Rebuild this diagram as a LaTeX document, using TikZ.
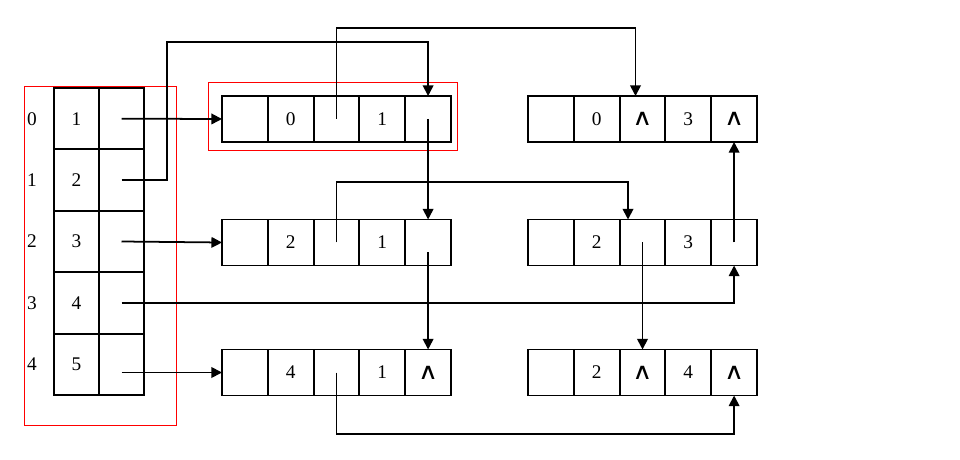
\documentclass[tikz,border=0pt]{standalone}
\usepackage{fontspec}
\setmainfont{Liberation Serif}
\newfontfamily\symfont{DejaVu Sans}
\usetikzlibrary{arrows.meta, positioning}

\newcommand{\nil}{\scalebox{1.2}[1]{\symfont\fontsize{13}{13}\selectfont ∧}}

\begin{document}
\begin{tikzpicture}[x=0.2mm, y=-0.2mm,
  cell/.style={draw, line width=1.1pt, minimum width=9.16mm, minimum height=9.2mm, inner sep=0pt, outer sep=0pt, font=\fontsize{11}{13}\selectfont},
  tcell/.style={cell, minimum width=9mm, minimum height=12.28mm},
  idx/.style={font=\fontsize{11}{13}\selectfont},
  link/.style={-{Triangle[length=6pt,width=6pt]}, line width=1pt}]
  \useasboundingbox (0,0) rectangle (960,460);
  % head table
  \node[tcell] (t0v) at (76.5,118.7) {1};
  \node[tcell, right=0pt of t0v] (t0p) {};
  \node[tcell, below=0pt of t0v] (t1v) {2};
  \node[tcell, right=0pt of t1v] (t1p) {};
  \node[tcell, below=0pt of t1v] (t2v) {3};
  \node[tcell, right=0pt of t2v] (t2p) {};
  \node[tcell, below=0pt of t2v] (t3v) {4};
  \node[tcell, right=0pt of t3v] (t3p) {};
  \node[tcell, below=0pt of t3v] (t4v) {5};
  \node[tcell, right=0pt of t4v] (t4p) {};
  \node[idx] (i0) at (32,118.7) {0};
  \node[idx] (i1) at (32,180.1) {1};
  \node[idx] (i2) at (32,241.5) {2};
  \node[idx] (i3) at (32,302.9) {3};
  \node[idx] (i4) at (32,364.3) {4};
  % middle column
  \node[cell] (m1a) at (244.9,119) {};
  \node[cell, right=0pt of m1a] (m1b) {0};
  \node[cell, right=0pt of m1b] (m1c) {};
  \node[cell, right=0pt of m1c] (m1d) {1};
  \node[cell, right=0pt of m1d] (m1e) {};
  \node[cell] (m2a) at (244.9,242.5) {};
  \node[cell, right=0pt of m2a] (m2b) {2};
  \node[cell, right=0pt of m2b] (m2c) {};
  \node[cell, right=0pt of m2c] (m2d) {1};
  \node[cell, right=0pt of m2d] (m2e) {};
  \node[cell] (m3a) at (244.9,372.5) {};
  \node[cell, right=0pt of m3a] (m3b) {4};
  \node[cell, right=0pt of m3b] (m3c) {};
  \node[cell, right=0pt of m3c] (m3d) {1};
  \node[cell, right=0pt of m3d] (m3e) {\nil};
  % right column
  \node[cell] (r1a) at (550.9,119) {};
  \node[cell, right=0pt of r1a] (r1b) {0};
  \node[cell, right=0pt of r1b] (r1c) {\nil};
  \node[cell, right=0pt of r1c] (r1d) {3};
  \node[cell, right=0pt of r1d] (r1e) {\nil};
  \node[cell] (r2a) at (550.9,242.5) {};
  \node[cell, right=0pt of r2a] (r2b) {2};
  \node[cell, right=0pt of r2b] (r2c) {};
  \node[cell, right=0pt of r2c] (r2d) {3};
  \node[cell, right=0pt of r2d] (r2e) {};
  \node[cell] (r3a) at (550.9,372.5) {};
  \node[cell, right=0pt of r3a] (r3b) {2};
  \node[cell, right=0pt of r3b] (r3c) {\nil};
  \node[cell, right=0pt of r3c] (r3d) {4};
  \node[cell, right=0pt of r3d] (r3e) {\nil};
  % red frames
  \draw[red, line width=0.5pt] (24,86) rectangle (176,425);
  \draw[red, line width=0.5pt] (208,82) rectangle (457,150);
  % links
  \coordinate (k1) at (167,42);
  \coordinate (k2) at (0,28);
  \coordinate (k3) at (0,182);
  \coordinate (k4) at (0,434);
  \draw[link] (t0p.center) -- (m1a.west);
  \draw[link] (t1p.center) -| (k1) -| (m1e.north);
  \draw[link] (t2p.center) -- (m2a.west);
  \draw[link] (t3p.center) -| (r2e.south);
  \draw[link] (t4p.center |- m3a.west) -- (m3a.west);
  \draw[link] (m1c.center) -- (m1c.center |- k2) -| ([xshift=-1.4mm]r1c.north);
  \draw[link] (m1e.center) -- (m2e.north);
  \draw[link] (m2c.center) -- (m2c.center |- k3) -| ([xshift=-2.9mm]r2c.north);
  \draw[link] ([yshift=-2mm]m2e.center) -- (m3e.north);
  \draw[link] (m3c.center) -- (m3c.center |- k4) -| (r3e.south);
  \draw[link] (r2c.center) -- (r3c.north);
  \draw[link] (r2e.center) -- (r1e.south);
\end{tikzpicture}
\end{document}
